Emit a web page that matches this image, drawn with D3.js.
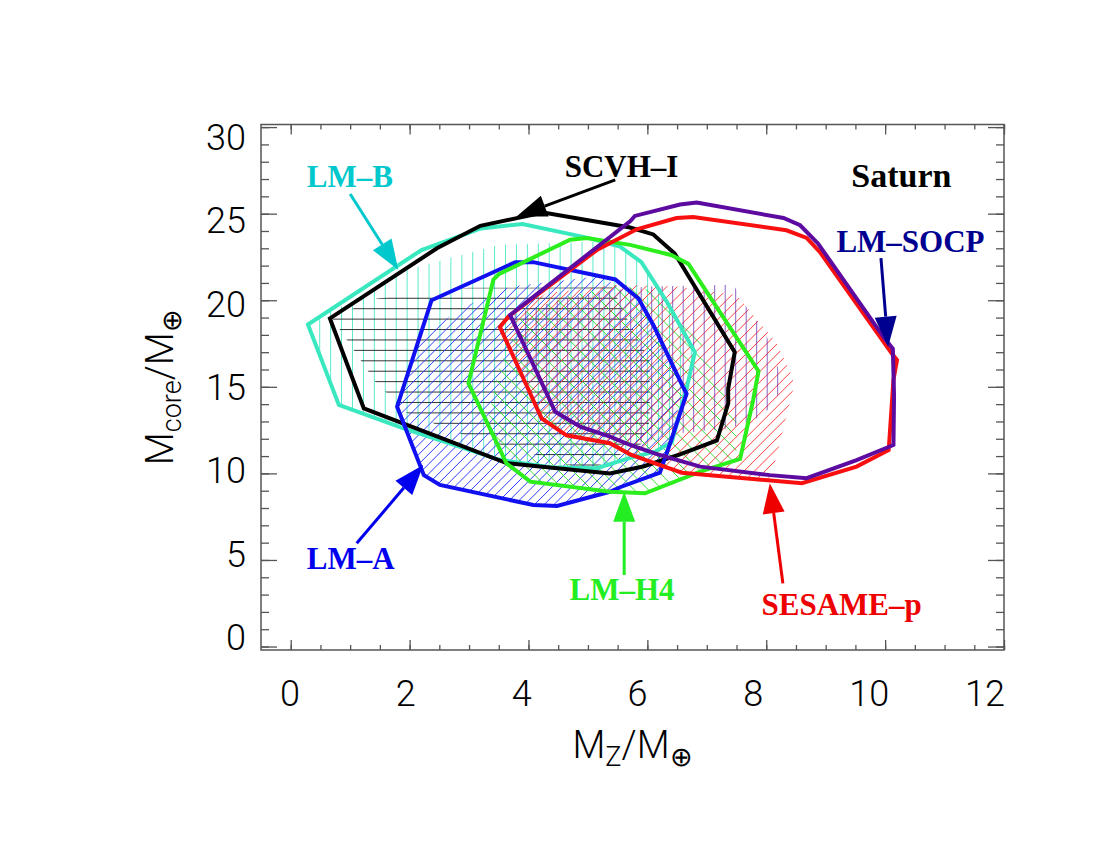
<!DOCTYPE html>
<html>
<head>
<meta charset="utf-8">
<script src="https://cdn.jsdelivr.net/npm/d3@7"></script>
<style>
  body { margin: 0; background: #fff; }
  svg { display: block; }
</style>
</head>
<body>
<svg id="contenedor" width="1100" height="850"></svg>
<script>
// ticks de los ejes
let xMayores = [0, 2, 4, 6, 8, 10, 12];
let yMayores = [0, 5, 10, 15, 20, 25, 30];

// contornos de cada modelo, pares [Mz, Mcore]
let contornoLMB = [[0.29,18.6],[2.2,22.9],[3.2,24.15],[3.9,24.4],[5.0,23.6],[5.54,23.1],[5.9,22.2],[6.33,19.9],[6.8,17.0],[6.66,14.9],[6.41,11.8],[6.13,11.25],[5.71,10.9],[5.15,10.3],[4.36,10.35],[3.5,10.8],[1.9,12.6],[0.81,13.95]];
let contornoSCVH = [[0.66,18.95],[2.46,23.0],[3.19,24.3],[4.25,25.07],[5.2,24.5],[5.71,24.2],[6.1,23.8],[6.46,22.7],[7.47,17.0],[7.36,14.9],[7.36,14.04],[7.17,11.9],[6.55,11.1],[5.93,10.4],[5.37,10.0],[4.19,10.4],[3.63,10.6],[2.34,12.3],[1.23,13.75]];
let contornoLMA = [[2.37,20.0],[3.78,22.2],[4.08,22.2],[5.46,21.2],[5.85,20.1],[6.1,18.57],[6.6,15.0],[6.66,14.6],[6.38,11.7],[6.21,10.04],[5.54,9.2],[5.37,8.94],[4.48,8.12],[4.08,8.17],[2.51,9.33],[2.24,9.9],[1.79,13.85]];
let contornoLMH4 = [[2.99,15.2],[3.41,21.2],[3.5,21.5],[4.7,23.5],[4.98,23.6],[5.71,23.2],[6.41,22.6],[6.69,22.1],[7.87,15.9],[7.78,14.24],[7.56,10.83],[6.89,10.1],[5.96,8.85],[5.37,8.94],[4.03,9.52],[3.63,10.58]];
let contornoSESAME = [[3.52,18.45],[3.66,19.05],[5.15,22.9],[5.82,24.1],[6.49,24.75],[6.77,24.81],[8.34,24.04],[8.68,23.6],[8.9,22.8],[10.11,16.94],[10.2,16.55],[10.14,15.4],[10.06,11.35],[9.52,10.39],[8.6,9.43],[6.58,10.04],[6.13,10.58],[5.71,11.1],[5.37,11.74],[4.64,12.2],[4.22,13.18]];
let contornoSOCP = [[3.69,19.15],[5.71,24.56],[5.79,24.87],[6.55,25.53],[6.83,25.64],[8.29,24.75],[8.57,24.33],[8.87,23.28],[9.99,17.8],[10.13,17.2],[10.15,14.5],[10.14,11.64],[9.52,10.77],[8.68,9.72],[8.06,9.9],[6.89,10.39],[6.21,11.06],[5.71,11.64],[5.37,12.12],[4.87,12.7],[4.45,13.56]];

// regiones rayadas, pares [Mz, Mcore]
let rayadoLMB = [[0.35,18.3],[0.45,19.1],[1.05,19.9],[2.0,21.8],[3.5,23.2],[5.3,23.4],[5.9,22.2],[6.33,19.9],[6.8,17.0],[6.66,14.9],[6.41,11.8],[6.13,11.25],[5.71,10.9],[5.15,10.3],[4.36,10.35],[3.5,10.8],[1.9,12.6],[0.81,13.95]];
let rayadoSCVH = [[0.70,18.95],[1.05,19.53],[1.45,20.1],[2.99,20.72],[5.41,20.75],[5.65,19.0],[6.04,16.5],[6.04,13.0],[5.9,11.7],[5.5,11.0],[5.15,10.4],[4.75,10.4],[4.14,11.06],[2.88,12.26],[1.96,13.47],[1.42,15.3]];
let rayadoLMA = [[1.79,13.85],[2.2,17.9],[2.9,19.6],[3.7,20.8],[5.2,21.4],[5.85,20.1],[6.1,18.57],[6.6,15.0],[6.38,11.7],[6.21,10.04],[5.54,9.2],[4.48,8.12],[4.08,8.17],[2.51,9.33],[2.24,9.9]];
let rayadoLMH4 = [[3.9,19.2],[4.6,20.2],[5.5,20.9],[6.2,20.5],[6.83,18.1],[7.1,16.0],[7.5,13.0],[7.5,10.9],[6.89,10.1],[5.96,8.85],[5.65,8.93],[4.03,9.52],[3.63,10.58],[3.3,12.8],[3.5,16.0]];
let rayadoSESAME = [[3.52,18.45],[3.69,19.15],[4.3,20.4],[5.5,20.9],[6.5,20.8],[7.5,20.3],[7.84,18.9],[8.18,17.5],[8.45,15.5],[8.45,14.8],[8.1,10.0],[8.0,9.5],[6.58,10.04],[5.71,11.1],[5.37,11.74],[4.64,12.2],[4.22,13.18]];
let rayadoSOCP = [[3.69,19.15],[4.6,20.1],[5.5,20.6],[6.0,20.8],[7.45,20.9],[7.65,19.7],[8.0,18.0],[8.25,15.6],[8.25,14.9],[8.1,13.85],[7.8,13.1],[7.4,12.6],[6.5,12.3],[5.71,11.64],[4.87,12.7],[4.45,13.56]];

// etiquetas y flechas
let etiquetas = [
  { texto: "LM\u2013B", x: 0.27, y: 26.54, color: "#00c8cc", size: 31 },
  { texto: "SCVH\u2013I", x: 4.61, y: 27.14, color: "#000000", size: 31 },
  { texto: "Saturn", x: 9.43, y: 26.54, color: "#000000", size: 34 },
  { texto: "LM\u2013SOCP", x: 9.18, y: 22.8, color: "#000090", size: 31 },
  { texto: "LM\u2013A", x: 0.27, y: 4.46, color: "#0000ee", size: 31 },
  { texto: "LM\u2013H4", x: 4.69, y: 2.69, color: "#22ee22", size: 31 },
  { texto: "SESAME\u2013p", x: 7.92, y: 1.82, color: "#ee0000", size: 31 },
];
let flechas = [
  { desde: [1.0, 26.14], hasta: [1.81, 21.76], color: "#00c8cc" },
  { desde: [5.46, 26.95], hasta: [3.80, 24.83], color: "#000000" },
  { desde: [9.93, 22.43], hasta: [10.05, 17.32], color: "#000090" },
  { desde: [1.11, 5.96], hasta: [2.23, 10.49], color: "#0000ee" },
  { desde: [5.61, 4.13], hasta: [5.61, 8.94], color: "#22ee22" },
  { desde: [8.28, 3.65], hasta: [8.06, 9.43], color: "#ee0000" },
];

// configuracion del area
function getConfig() {
  let margin = { left: 261, right: 1004, top: 124.5, bottom: 650 };
  let container = d3.select("#contenedor");
  let x = d3.scaleLinear().domain([-0.5, 12]).range([margin.left, margin.right]);
  let y = d3.scaleLinear().domain([-0.2, 30.15]).range([margin.bottom, margin.top]);
  // las etiquetas de los ejes quedan algo comprimidas en el original
  let xEtiq = d3.scaleLinear().domain([0, 12]).range([290, 985]);
  let yEtiq = d3.scaleLinear().domain([0, 30]).range([637, 137]);
  return { margin, container, x, y, xEtiq, yEtiq };
}

// rayado de un poligono, lineas en pixeles recortadas por el poligono
function dibujarRayado(config, poligono, id, tipo, paso, ancla, color, opacidad) {
  let { container, x, y, margin } = config;
  let linea = d3.line().x((d) => x(d[0])).y((d) => y(d[1]));
  container.append("clipPath").attr("id", id)
    .append("path").attr("d", linea(poligono) + "Z");
  let g = container.append("g").attr("clip-path", `url(#${id})`);
  let segs = [];
  if (tipo === "v") {
    for (let px = ancla - paso * 80; px < margin.right; px += paso)
      if (px > margin.left) segs.push([px, margin.top, px, margin.bottom]);
  } else if (tipo === "h") {
    for (let py = ancla - paso * 60; py < margin.bottom; py += paso)
      if (py > margin.top) segs.push([margin.left, py, margin.right, py]);
  } else {
    // diagonales: "/" x + y = c, "\" x - y = c
    let k = paso * Math.SQRT2;
    for (let c = ancla - k * 200; c < ancla + k * 200; c += k) {
      if (tipo === "/") segs.push([c - margin.bottom, margin.bottom, c - margin.top, margin.top]);
      else segs.push([c + margin.top, margin.top, c + margin.bottom, margin.bottom]);
    }
  }
  g.selectAll("line").data(segs).enter().append("line")
    .attr("x1", (d) => d[0]).attr("y1", (d) => d[1])
    .attr("x2", (d) => d[2]).attr("y2", (d) => d[3])
    .attr("stroke", color).attr("stroke-width", 1)
    .attr("stroke-opacity", opacidad);
}

function dibujarContorno(config, poligono, color) {
  let { container, x, y } = config;
  let linea = d3.line().x((d) => x(d[0])).y((d) => y(d[1]));
  container.append("path")
    .attr("d", linea(poligono) + "Z")
    .attr("fill", "none")
    .attr("stroke", color)
    .attr("stroke-width", 4)
    .attr("stroke-linejoin", "miter");
}

function dibujarEjes(config) {
  let { container, x, y, xEtiq, yEtiq, margin } = config;
  let xMenores = d3.range(0, 12.01, 0.5);
  let yMenores = d3.range(0, 30.01, 1);
  let fuente = "Roboto, 'Liberation Sans', sans-serif";
  let ejes = container.append("g").attr("class", "ejes");

  let poner = (eje, tx, ty) => {
    let g = ejes.append("g").attr("transform", `translate(${tx},${ty})`).call(eje);
    g.select(".domain").remove();
    g.selectAll("line").attr("stroke", "#555").attr("stroke-width", 1.3);
    return g;
  };
  // menores
  poner(d3.axisBottom(x).tickValues(xMenores).tickSize(-5).tickFormat(""), 0, margin.bottom);
  poner(d3.axisTop(x).tickValues(xMenores).tickSize(-5).tickFormat(""), 0, margin.top);
  poner(d3.axisLeft(y).tickValues(yMenores).tickSize(-8).tickFormat(""), margin.left, 0);
  poner(d3.axisRight(y).tickValues(yMenores).tickSize(-8).tickFormat(""), margin.right, 0);
  // mayores
  poner(d3.axisBottom(x).tickValues(xMayores).tickSize(-10).tickFormat(""), 0, margin.bottom);
  poner(d3.axisTop(x).tickValues(xMayores).tickSize(-10).tickFormat(""), 0, margin.top);
  poner(d3.axisLeft(y).tickValues(yMayores).tickSize(-16).tickFormat(""), margin.left, 0);
  poner(d3.axisRight(y).tickValues(yMayores).tickSize(-16).tickFormat(""), margin.right, 0);

  // etiquetas del eje x
  ejes.selectAll(".xetiq").data(xMayores).enter().append("text")
    .attr("class", "xetiq")
    .attr("x", (d) => xEtiq(d))
    .attr("y", 706)
    .attr("text-anchor", "middle")
    .attr("font-family", fuente)
    .attr("font-weight", 300)
    .attr("font-size", "36px")
    .text((d) => d);

  // etiquetas del eje y
  ejes.selectAll(".yetiq").data(yMayores).enter().append("text")
    .attr("class", "yetiq")
    .attr("x", margin.left - 15)
    .attr("y", (d) => yEtiq(d))
    .attr("dy", "0.36em")
    .attr("text-anchor", "end")
    .attr("font-family", fuente)
    .attr("font-weight", 300)
    .attr("font-size", "36px")
    .text((d) => d);

  // marco
  ejes.append("rect")
    .attr("x", margin.left).attr("y", margin.top)
    .attr("width", margin.right - margin.left)
    .attr("height", margin.bottom - margin.top)
    .attr("fill", "none").attr("stroke", "#555").attr("stroke-width", 1.5);

  // titulos
  let tx = container.append("text")
    .attr("x", (margin.left + margin.right) / 2).attr("y", 758)
    .attr("text-anchor", "middle")
    .attr("font-family", fuente).attr("font-weight", 300).attr("font-size", "38px");
  tx.append("tspan").text("M");
  tx.append("tspan").attr("font-size", "27px").attr("dy", 8).text("Z");
  tx.append("tspan").attr("dy", -8).text("/M");
  tx.append("tspan").attr("font-size", "27px").attr("dy", 8).text("\u2295");

  let ty = container.append("text")
    .attr("transform", `translate(173,${(margin.top + margin.bottom) / 2}) rotate(-90)`)
    .attr("text-anchor", "middle")
    .attr("font-family", fuente).attr("font-weight", 300).attr("font-size", "38px");
  ty.append("tspan").text("M");
  ty.append("tspan").attr("font-size", "27px").attr("dy", 8).text("core");
  ty.append("tspan").attr("dy", -8).text("/M");
  ty.append("tspan").attr("font-size", "27px").attr("dy", 8).text("\u2295");
}

function dibujarAnotaciones(config) {
  let { container, x, y } = config;
  flechas.forEach((f) => {
    let x0 = x(f.desde[0]), y0 = y(f.desde[1]);
    let x1 = x(f.hasta[0]), y1 = y(f.hasta[1]);
    let dx = x1 - x0, dy = y1 - y0;
    let len = Math.sqrt(dx * dx + dy * dy);
    let ux = dx / len, uy = dy / len;
    let largo = 30, medio = 11;
    let bx = x1 - ux * largo, by = y1 - uy * largo;
    container.append("line")
      .attr("x1", x0).attr("y1", y0).attr("x2", bx).attr("y2", by)
      .attr("stroke", f.color).attr("stroke-width", 3);
    container.append("path")
      .attr("d", `M${x1},${y1}L${bx - uy * medio},${by + ux * medio}L${bx + uy * medio},${by - ux * medio}Z`)
      .attr("fill", f.color);
  });
  container.selectAll(".etiqueta").data(etiquetas).enter().append("text")
    .attr("class", "etiqueta")
    .attr("x", (d) => x(d.x)).attr("y", (d) => y(d.y))
    .attr("font-family", "'Liberation Serif', 'Times New Roman', serif")
    .attr("font-weight", "bold")
    .attr("font-size", (d) => d.size + "px")
    .attr("fill", (d) => d.color)
    .text((d) => d.texto);
}

function dibujarChart() {
  let config = getConfig();
  // rayados
  dibujarRayado(config, rayadoLMB, "clipLMB", "v", 10.93, 429, "#4ae8c8", 0.9);
  dibujarRayado(config, rayadoSCVH, "clipSCVH", "h", 10.42, 465, "#111", 0.85);
  dibujarRayado(config, rayadoLMA, "clipLMA", "/", 6.9, 1000, "#2233ff", 0.95);
  dibujarRayado(config, rayadoLMH4, "clipLMH4", "\\", 10, 300, "#22dd22", 0.9);
  dibujarRayado(config, rayadoSESAME, "clipSESAME", "/", 7.4, 1100, "#ff2a2a", 0.9);
  dibujarRayado(config, rayadoSOCP, "clipSOCP", "v", 10.5, 651.7, "#6a2aa8", 0.75);
  // contornos
  dibujarContorno(config, contornoLMB, "#3ae8c0");
  dibujarContorno(config, contornoSCVH, "#000000");
  dibujarContorno(config, contornoLMA, "#1010f0");
  dibujarContorno(config, contornoLMH4, "#2cee1c");
  dibujarContorno(config, contornoSESAME, "#f81010");
  dibujarContorno(config, contornoSOCP, "#5c0aa0");
  dibujarEjes(config);
  dibujarAnotaciones(config);
}

dibujarChart();
</script>
</body>
</html>
